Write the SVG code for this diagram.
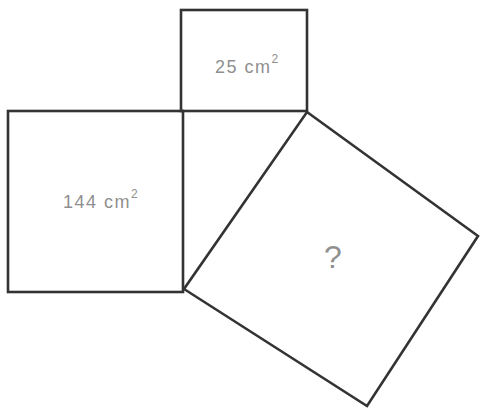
<svg xmlns="http://www.w3.org/2000/svg" width="484" height="410" viewBox="0 0 484 410">
<style>
.sq{fill:none;stroke:#333333;stroke-width:2.6;stroke-linejoin:miter}
.lbl{font-family:"Liberation Sans",Arial,sans-serif;fill:#8f8f8f;letter-spacing:1.5px}
</style>
<rect width="484" height="410" fill="#ffffff"/>
<g id="square-top">
<rect class="sq" x="181" y="10" width="126" height="101"/>
<text class="lbl" x="215" y="73" font-size="18">25 cm<tspan font-size="12" dy="-10">2</tspan></text>
</g>
<g id="square-left">
<rect class="sq" x="8" y="111" width="175" height="181"/>
<text class="lbl" x="63" y="208" font-size="18">144 cm<tspan font-size="12" dy="-10">2</tspan></text>
</g>
<g id="square-hyp">
<polygon class="sq" points="307,112 478,236 367,406 184,289"/>
<text class="lbl" x="324" y="268" font-size="32">?</text>
</g>
</svg>
